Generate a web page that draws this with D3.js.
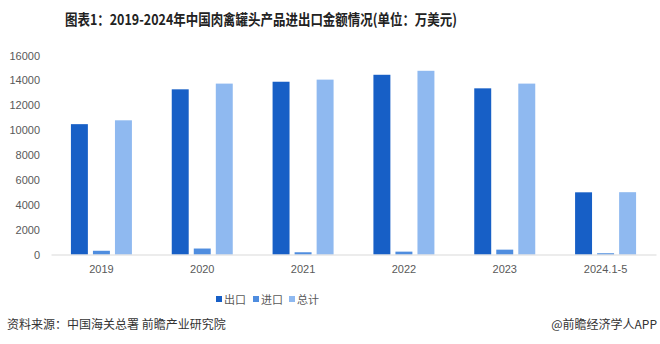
<!DOCTYPE html>
<html><head><meta charset="utf-8">
<script src="https://cdn.jsdelivr.net/npm/d3@7"></script>
<style>body{margin:0;background:#fff;}svg{display:block;font-family:"Noto Sans CJK SC","Liberation Sans",sans-serif;}</style>
</head><body>
<script>
const categories = ["2019","2020","2021","2022","2023","2024.1-5"];
const seriesNames = ["出口","进口","总计"];
const exportVals = [10480, 13280, 13890, 14450, 13360, 5000];
const importVals = [300, 480, 180, 230, 390, 100];
const totalVals = [10790, 13740, 14060, 14770, 13740, 5010];
const yTicks = [0,2000,4000,6000,8000,10000,12000,14000,16000];
const colors = ["#175fc6","#4f8ddf","#8fb9f0"];

const W=660,H=344;
const svg=d3.select("body").append("svg").attr("width",W).attr("height",H);
const m={l:51,r:4,t:56,b:90};
const x=d3.scaleBand().domain(categories).range([51,656]);
const y=d3.scaleLinear().domain([0,16000]).range([254.5,55.5]);
const sub=d3.scaleBand().domain(seriesNames).range([x.bandwidth()/2-30.5,x.bandwidth()/2+30.5]).paddingInner(0.23);

svg.append("text").attr("x",65).attr("y",25).attr("font-size",15).attr("font-weight","bold")
  .attr("fill","#222").attr("textLength",392).attr("lengthAdjust","spacingAndGlyphs")
  .text("图表1：2019-2024年中国肉禽罐头产品进出口金额情况(单位：万美元)");

// y axis labels
const ya=svg.append("g").attr("transform","translate(40,0)")
  .call(d3.axisLeft(y).tickValues(yTicks).tickSize(0).tickPadding(0).tickFormat(d3.format("d")));
ya.select(".domain").remove();
ya.selectAll("text").attr("font-size",11).attr("fill","#595959").attr("font-family","Liberation Sans, sans-serif");

// bars
const data=[exportVals,importVals,totalVals];
const g=svg.append("g");
data.forEach((vals,si)=>{
  g.selectAll(null).data(vals).enter().append("rect")
    .attr("x",(d,i)=>x(categories[i])+sub(seriesNames[si]))
    .attr("width",sub.bandwidth())
    .attr("y",d=>y(d)).attr("height",d=>y(0)-y(d))
    .attr("fill",colors[si]);
});

// x axis
const xa=svg.append("g").attr("transform",`translate(0,${y(0)})`)
  .call(d3.axisBottom(x).tickSize(0).tickPadding(11));
xa.select(".domain").attr("stroke","#d9d9d9");
xa.selectAll("text").attr("font-size",11).attr("fill","#595959").attr("font-family","Liberation Sans, sans-serif");

// legend
const lx=[216,253,289];
seriesNames.forEach((n,i)=>{
  svg.append("rect").attr("x",lx[i]).attr("y",296).attr("width",6).attr("height",6).attr("fill",colors[i]);
  svg.append("text").attr("x",lx[i]+8).attr("y",303.5).attr("font-size",11).attr("fill","#595959").text(n);
});

svg.append("text").attr("x",7).attr("y",329).attr("font-size",12).attr("fill","#333").text("资料来源：中国海关总署 前瞻产业研究院");
svg.append("text").attr("x",657).attr("y",329).attr("text-anchor","end").attr("font-size",12).attr("fill","#333").text("@前瞻经济学人APP");
</script>
</body></html>
